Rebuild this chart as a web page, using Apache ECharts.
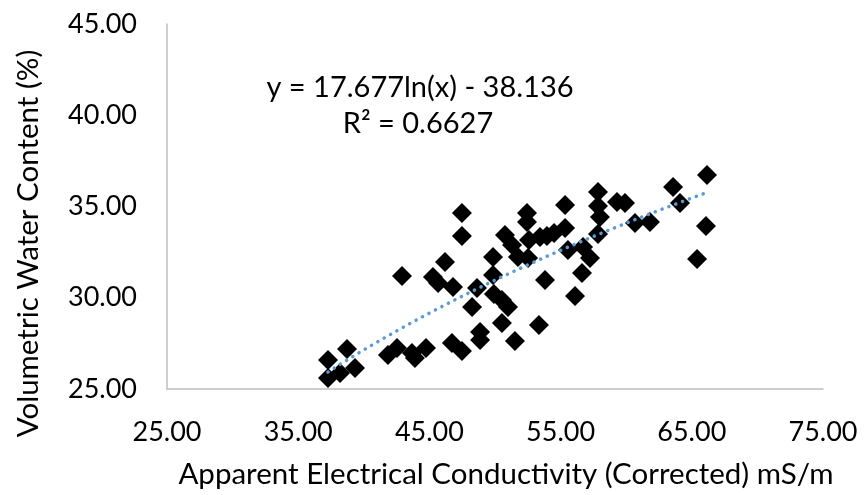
<!DOCTYPE html>
<html>
<head>
<meta charset="utf-8">
<script src="https://cdn.jsdelivr.net/npm/echarts@6/dist/echarts.min.js"></script>
<style>
html,body{margin:0;padding:0;background:#fff;}
#chart{width:865px;height:495px;}
</style>
</head>
<body>
<div id="chart"></div>
<script>
// Apparent electrical conductivity (mS/m)
var ecValues = [37.27,38.72,37.27,38.19,39.33,41.84,42.53,43.67,43.90,44.74,
  42.91,45.27,46.19,45.66,46.80,47.48,47.48,46.72,47.48,48.86,
  48.86,48.25,48.63,49.85,49.85,49.92,50.53,50.99,50.53,51.52,
  50.76,51.30,51.75,52.44,52.44,52.59,52.52,53.43,53.96,54.50,
  55.34,55.34,55.56,53.81,53.35,56.10,56.71,57.24,56.63,57.85,
  57.85,58.00,57.85,59.30,59.91,60.67,61.81,63.57,64.10,66.16,
  66.08,65.40];
// Volumetric water content (%)
var vwcValues = [26.59,27.19,25.60,25.88,26.15,26.86,27.25,26.97,26.70,27.25,
  31.19,31.14,31.96,30.81,30.59,34.64,33.38,27.52,27.08,28.12,
  27.68,29.49,30.53,32.23,31.25,30.21,29.88,29.49,28.62,27.63,
  33.44,32.89,32.23,34.64,34.15,33.16,32.18,33.33,33.38,33.55,
  35.08,33.82,32.62,30.97,28.51,30.10,32.78,32.18,31.36,35.79,
  35.03,34.42,33.49,35.25,35.19,34.10,34.15,36.07,35.19,36.73,
  33.93,32.12];
var xTicks = [25,35,45,55,65,75];
var yTicks = [25,30,35,40,45];
var equationText = 'y = 17.677ln(x) - 38.136';
var r2Text = 'R² = 0.6627';

var points = ecValues.map(function(x,i){return [x, vwcValues[i]];});

// logarithmic least-squares fit (as a spreadsheet trendline does)
var n = ecValues.length, sl=0, sy=0, sll=0, sly=0;
for (var i=0;i<n;i++){ var l=Math.log(ecValues[i]); sl+=l; sy+=vwcValues[i]; sll+=l*l; sly+=l*vwcValues[i]; }
var slope = (n*sly - sl*sy)/(n*sll - sl*sl);
var intercept = (sy - slope*sl)/n;
var xmin = Math.min.apply(null, ecValues), xmax = Math.max.apply(null, ecValues);
var trend = [];
for (var k=0;k<=60;k++){ var xv = xmin + (xmax-xmin)*k/60; trend.push([xv, slope*Math.log(xv)+intercept]); }

var font = 'Lato, "Open Sans", sans-serif';
var chart = echarts.init(document.getElementById('chart'));
chart.setOption({
  animation:false,
  backgroundColor:'#ffffff',
  grid:{left:167, right:42, top:24, bottom:106, containLabel:false},
  xAxis:{
    type:'value', min:xTicks[0], max:xTicks[xTicks.length-1], interval:10,
    name:'Apparent Electrical Conductivity (Corrected) mS/m',
    nameLocation:'middle', nameGap:70,
    nameTextStyle:{color:'#000', fontSize:29.5, fontFamily:font, padding:[0,0,0,22]},
    axisLine:{show:true, onZero:false, lineStyle:{color:'#bfbfbf', width:1.5}},
    axisTick:{show:false}, splitLine:{show:false},
    axisLabel:{color:'#000', fontSize:27, fontFamily:font, margin:30,
      formatter:function(v){return v.toFixed(2);}}
  },
  yAxis:{
    type:'value', min:yTicks[0], max:yTicks[yTicks.length-1], interval:5,
    name:'Volumetric Water Content (%)',
    nameLocation:'middle', nameGap:124,
    nameTextStyle:{color:'#000', fontSize:29.5, fontFamily:font, padding:[0,74,0,0]},
    axisLine:{show:true, onZero:false, lineStyle:{color:'#bfbfbf', width:1.5}},
    axisTick:{show:false}, splitLine:{show:false},
    axisLabel:{color:'#000', fontSize:27, fontFamily:font, margin:30,
      formatter:function(v){return v.toFixed(2);}}
  },
  graphic:[
    {type:'text', position:[420,88], style:{text:equationText, fill:'#000', fontSize:29, fontFamily:font, align:'center', verticalAlign:'middle'}},
    {type:'text', position:[418,124], style:{text:r2Text, fill:'#000', fontSize:29, fontFamily:font, align:'center', verticalAlign:'middle'}}
  ],
  series:[
    {type:'scatter', data:points, symbol:'diamond', symbolSize:20,
     itemStyle:{color:'#000', opacity:1}, z:2},
    {type:'line', data:trend, showSymbol:false, smooth:false, z:3,
     lineStyle:{color:'#5b9bd5', width:3.5, type:[0.1,7.2], cap:'round'}}
  ]
});
</script>
</body>
</html>
